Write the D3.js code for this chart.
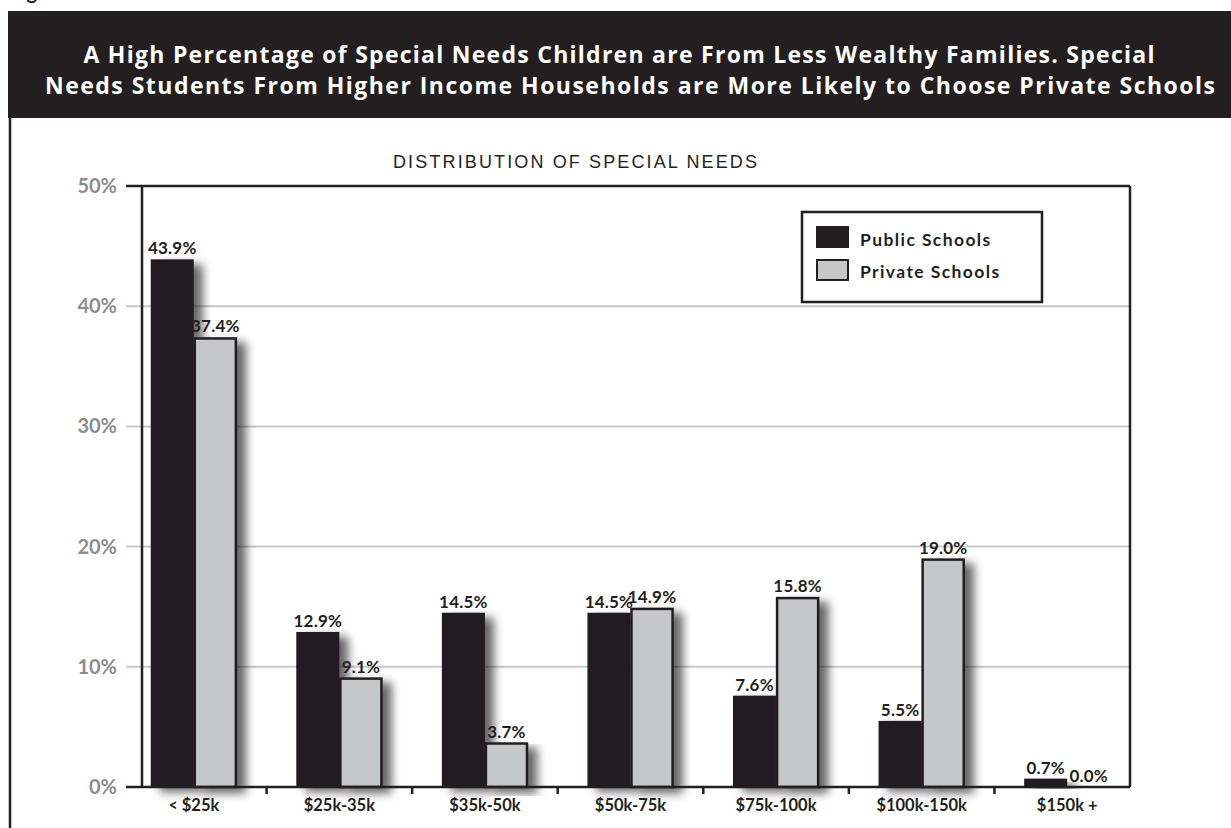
<!DOCTYPE html>
<html>
<head>
<meta charset="utf-8">
<script src="https://cdn.jsdelivr.net/npm/d3@7"></script>
<style>
  html, body { margin: 0; padding: 0; background: #fff; }
  svg { display: block; }
</style>
</head>
<body>
<svg id="chart" width="1231" height="828"></svg>
<script>
// Income brackets and the share of special-needs students in each
const categories = ["< $25k", "$25k-35k", "$35k-50k", "$50k-75k", "$75k-100k", "$100k-150k", "$150k +"];
const seriesNames = ["Public Schools", "Private Schools"];
const publicValues = [43.9, 12.9, 14.5, 14.5, 7.6, 5.5, 0.7];
const privateValues = [37.4, 9.1, 3.7, 14.9, 15.8, 19.0, 0.0];
const yTicks = [0, 10, 20, 30, 40, 50];
const titleLines = [
  "A High Percentage of Special Needs Children are From Less Wealthy Families. Special",
  "Needs Students From Higher Income Households are More Likely to Choose Private Schools"
];
const subtitle = "DISTRIBUTION OF SPECIAL NEEDS";

const INK = "#231f20";
const GREY_FILL = "#c6c7c9";
const GRID = "#c9c9c9";
const TICK_TEXT = "#8d8d8d";
const FONT = "Lato, 'Open Sans', sans-serif";

const svg = d3.select("#chart");

// soft shadow cast to the lower right of each bar
const defs = svg.append("defs");
const shadow = defs.append("filter").attr("id", "barShadow")
  .attr("x", "-20%").attr("y", "-10%").attr("width", "170%").attr("height", "130%");
shadow.append("feGaussianBlur").attr("in", "SourceAlpha").attr("stdDeviation", 5).attr("result", "blur");
shadow.append("feOffset").attr("in", "blur").attr("dx", 9).attr("dy", 5).attr("result", "off");
shadow.append("feComponentTransfer").attr("in", "off").attr("result", "soft")
  .append("feFuncA").attr("type", "linear").attr("slope", 0.6);
const merge = shadow.append("feMerge");
merge.append("feMergeNode").attr("in", "soft");
merge.append("feMergeNode").attr("in", "SourceGraphic");

// figure caption, mostly above the visible page
svg.append("text").attr("x", 10).attr("y", -1)
  .attr("font-family", FONT).attr("font-weight", 700).attr("font-size", 20)
  .attr("fill", INK).text("Figure 6");

// title banner
svg.append("rect").attr("x", 8).attr("y", 11).attr("width", 1223).attr("height", 107).attr("fill", INK);
const titleSpec = [{ x: 619, y: 63, w: 1071 }, { x: 630, y: 94, w: 1170 }];
titleLines.forEach((line, i) => {
  svg.append("text")
    .attr("x", titleSpec[i].x).attr("y", titleSpec[i].y)
    .attr("text-anchor", "middle")
    .attr("font-family", "'Open Sans', Lato, sans-serif").attr("font-weight", 700).attr("font-size", 23)
    .attr("fill", "#fff")
    .attr("textLength", titleSpec[i].w).attr("lengthAdjust", "spacing")
    .text(line);
});

// outer frame edge on the left
svg.append("line").attr("x1", 10).attr("x2", 10).attr("y1", 118).attr("y2", 828)
  .attr("stroke", INK).attr("stroke-width", 2.5);

// subtitle
svg.append("text").attr("x", 575).attr("y", 168).attr("text-anchor", "middle")
  .attr("font-family", "'Liberation Sans', Arial, sans-serif").attr("font-size", 18)
  .attr("fill", INK).attr("textLength", 364).attr("lengthAdjust", "spacing")
  .text(subtitle);

// scales
const plotLeft = 142, plotRight = 1130, plotTop = 186, plotBottom = 787;
const y = d3.scaleLinear().domain([0, 50]).range([plotBottom, plotTop]);
const x0 = d3.scaleBand().domain(categories).range([121, 1140]).paddingInner(0).paddingOuter(0);
const x1 = d3.scaleBand().domain(seriesNames).range([0, x0.bandwidth()]).paddingInner(0).paddingOuter(0.69);

// horizontal gridlines
svg.append("g").selectAll("line").data(yTicks.filter(t => t > 0 && t < 50)).join("line")
  .attr("x1", 126).attr("x2", plotRight)
  .attr("y1", d => y(d)).attr("y2", d => y(d))
  .attr("stroke", GRID).attr("stroke-width", 2);

// y axis labels
svg.append("g").selectAll("text").data(yTicks).join("text")
  .attr("x", 117).attr("y", d => y(d) + 7)
  .attr("text-anchor", "end")
  .attr("font-family", FONT).attr("font-weight", 700).attr("font-size", 20)
  .attr("fill", TICK_TEXT)
  .text(d => d + "%");

// bars
const rows = categories.map((c, i) => ({ cat: c, vals: [publicValues[i], privateValues[i]] }));
const groups = svg.append("g").selectAll("g").data(rows).join("g")
  .attr("transform", d => `translate(${x0(d.cat)},0)`);

groups.each(function (d) {
  const g = d3.select(this);
  d.vals.forEach((v, k) => {
    const isPublic = k === 0;
    const h = plotBottom - y(v);
    if (h > 0.5) {
      g.append("rect")
        .attr("x", x1(seriesNames[k]) + (isPublic ? 0 : 1))
        .attr("y", y(v) + (isPublic ? 0 : 1))
        .attr("width", x1.bandwidth() - (isPublic ? 0 : 2))
        .attr("height", h - (isPublic ? 0 : 1))
        .attr("fill", isPublic ? INK : GREY_FILL)
        .attr("stroke", isPublic ? "none" : INK)
        .attr("stroke-width", isPublic ? 0 : 2.5)
        .attr("filter", "url(#barShadow)");
    }
  });
});

// value labels
groups.each(function (d) {
  const g = d3.select(this);
  d.vals.forEach((v, k) => {
    g.append("text")
      .attr("x", x1(seriesNames[k]) + x1.bandwidth() / 2)
      .attr("y", y(v) - 5)
      .attr("text-anchor", "middle")
      .attr("font-family", FONT).attr("font-weight", 700).attr("font-size", 17)
      .attr("letter-spacing", 0.2)
      .attr("fill", INK)
      .text(v.toFixed(1) + "%");
  });
});

// plot frame: top, right, left axis and baseline
const frame = svg.append("g").attr("stroke", INK).attr("stroke-width", 2.5).attr("fill", "none");
frame.append("line").attr("x1", 126).attr("x2", plotRight).attr("y1", plotTop).attr("y2", plotTop);
frame.append("line").attr("x1", plotRight).attr("x2", plotRight).attr("y1", plotTop).attr("y2", plotBottom);
frame.append("line").attr("x1", plotLeft).attr("x2", plotLeft).attr("y1", plotTop).attr("y2", plotBottom);
frame.append("line").attr("x1", 126).attr("x2", plotRight).attr("y1", plotBottom).attr("y2", plotBottom);

// category separators below the baseline
frame.selectAll("line.sep").data(categories.slice(1)).join("line").attr("class", "sep")
  .attr("x1", d => x0(d)).attr("x2", d => x0(d))
  .attr("y1", plotBottom).attr("y2", plotBottom + 7);

// category labels
svg.append("g").selectAll("text").data(categories).join("text")
  .attr("x", d => x0(d) + x0.bandwidth() / 2)
  .attr("y", 811)
  .attr("text-anchor", "middle")
  .attr("font-family", FONT).attr("font-weight", 700).attr("font-size", 16.5)
  .attr("fill", INK)
  .text(d => d);

// legend
const legend = svg.append("g");
legend.append("rect").attr("x", 802).attr("y", 212).attr("width", 240).attr("height", 90)
  .attr("fill", "#fff").attr("stroke", INK).attr("stroke-width", 2.5);
seriesNames.forEach((name, k) => {
  legend.append("rect")
    .attr("x", 817).attr("y", 227 + k * 33).attr("width", 31).attr("height", 20)
    .attr("fill", k === 0 ? INK : GREY_FILL)
    .attr("stroke", INK).attr("stroke-width", 2);
  legend.append("text")
    .attr("x", 860).attr("y", 246 + k * 32)
    .attr("font-family", FONT).attr("font-weight", 700).attr("font-size", 17.5)
    .attr("letter-spacing", 1.4)
    .attr("fill", INK)
    .text(name);
});
</script>
</body>
</html>
